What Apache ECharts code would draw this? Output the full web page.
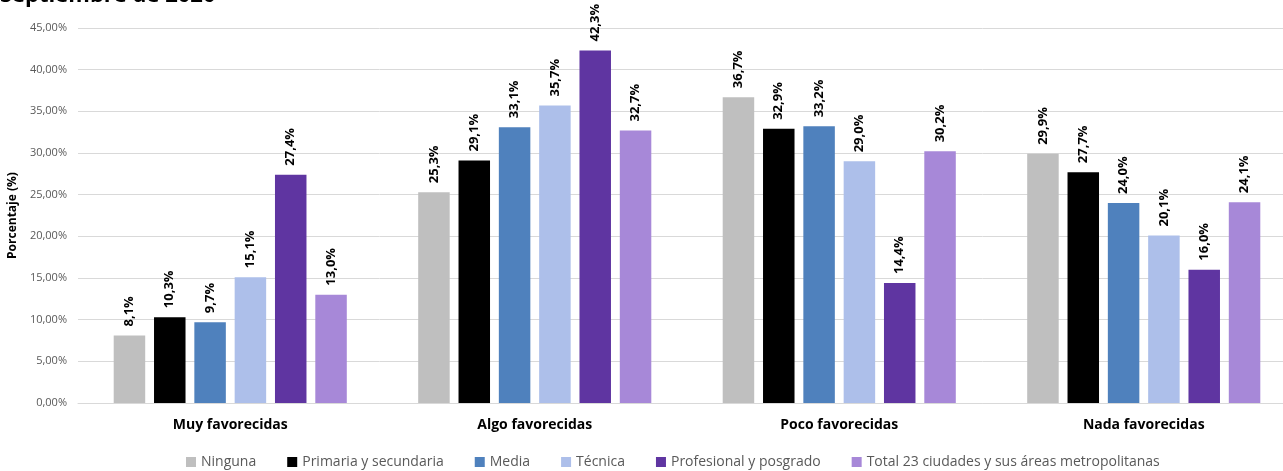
<!DOCTYPE html>
<html>
<head>
<meta charset="utf-8">
<script src="https://cdn.jsdelivr.net/npm/echarts@6/dist/echarts.min.js"></script>
<style>html,body{margin:0;padding:0;background:#fff;}#c{width:1283px;height:471px;}</style>
</head>
<body>
<div id="c"></div>
<script>
const categories = ['Muy favorecidas', 'Algo favorecidas', 'Poco favorecidas', 'Nada favorecidas'];
const seriesNames = ['Ninguna', 'Primaria y secundaria', 'Media', 'Técnica', 'Profesional y posgrado', 'Total 23 ciudades y sus áreas metropolitanas'];
const ninguna = [8.1, 25.3, 36.7, 29.9];
const primaria = [10.3, 29.1, 32.9, 27.7];
const media = [9.7, 33.1, 33.2, 24.0];
const tecnica = [15.1, 35.7, 29.0, 20.1];
const profesional = [27.4, 42.3, 14.4, 16.0];
const total = [13.0, 32.7, 30.2, 24.1];
const colors = ['#BFBFBF', '#000000', '#4F81BD', '#ADBFEA', '#5F35A1', '#A788D8'];
const allData = [ninguna, primaria, media, tecnica, profesional, total];

const fmt1 = v => v.toFixed(1).replace('.', ',') + '%';
const chart = echarts.init(document.getElementById('c'), null, {renderer: 'canvas'});
chart.setOption({
  animation: false,
  textStyle: {fontFamily: 'Open Sans'},
  graphic: [{
    type: 'text', left: 0, top: -15,
    style: {text: 'Septiembre de 2020', font: 'bold 22px "Open Sans"', fill: '#000'}
  }],
  grid: {left: 78, top: 28, width: 1218, height: 375, containLabel: false, outerBoundsMode: 'none'},
  legend: {
    bottom: -3, left: 181,
    itemWidth: 10, itemHeight: 10, itemGap: 31,
    icon: 'rect',
    textStyle: {fontSize: 14, color: '#595959', fontFamily: 'Open Sans'},
    data: seriesNames
  },
  xAxis: {
    type: 'category', data: categories,
    axisLine: {lineStyle: {color: '#D9D9D9'}},
    axisTick: {show: false},
    axisLabel: {fontSize: 14, fontWeight: 'bold', color: '#000', margin: 15}
  },
  yAxis: {
    type: 'value', min: 0, max: 45, interval: 5,
    name: 'Porcentaje (%)', nameLocation: 'middle', nameGap: 56,
    nameTextStyle: {fontSize: 12, fontWeight: 'bold', color: '#000'},
    axisLabel: {formatter: v => v.toFixed(2).replace('.', ',') + '%', color: '#595959', fontSize: 11, margin: 11},
    splitLine: {lineStyle: {color: '#D9D9D9'}},
    axisLine: {show: false}, axisTick: {show: false}
  },
  series: seriesNames.map((n, i) => ({
    name: n, type: 'bar', data: allData[i],
    barWidth: 31.5, barGap: '28%',
    itemStyle: {color: colors[i]},
    label: {
      show: true, position: 'top', rotate: 90, align: 'left', verticalAlign: 'middle',
      distance: 9, formatter: p => fmt1(p.value),
      fontSize: 13, fontWeight: 'bold', color: '#000'
    }
  }))
});
</script>
</body>
</html>
